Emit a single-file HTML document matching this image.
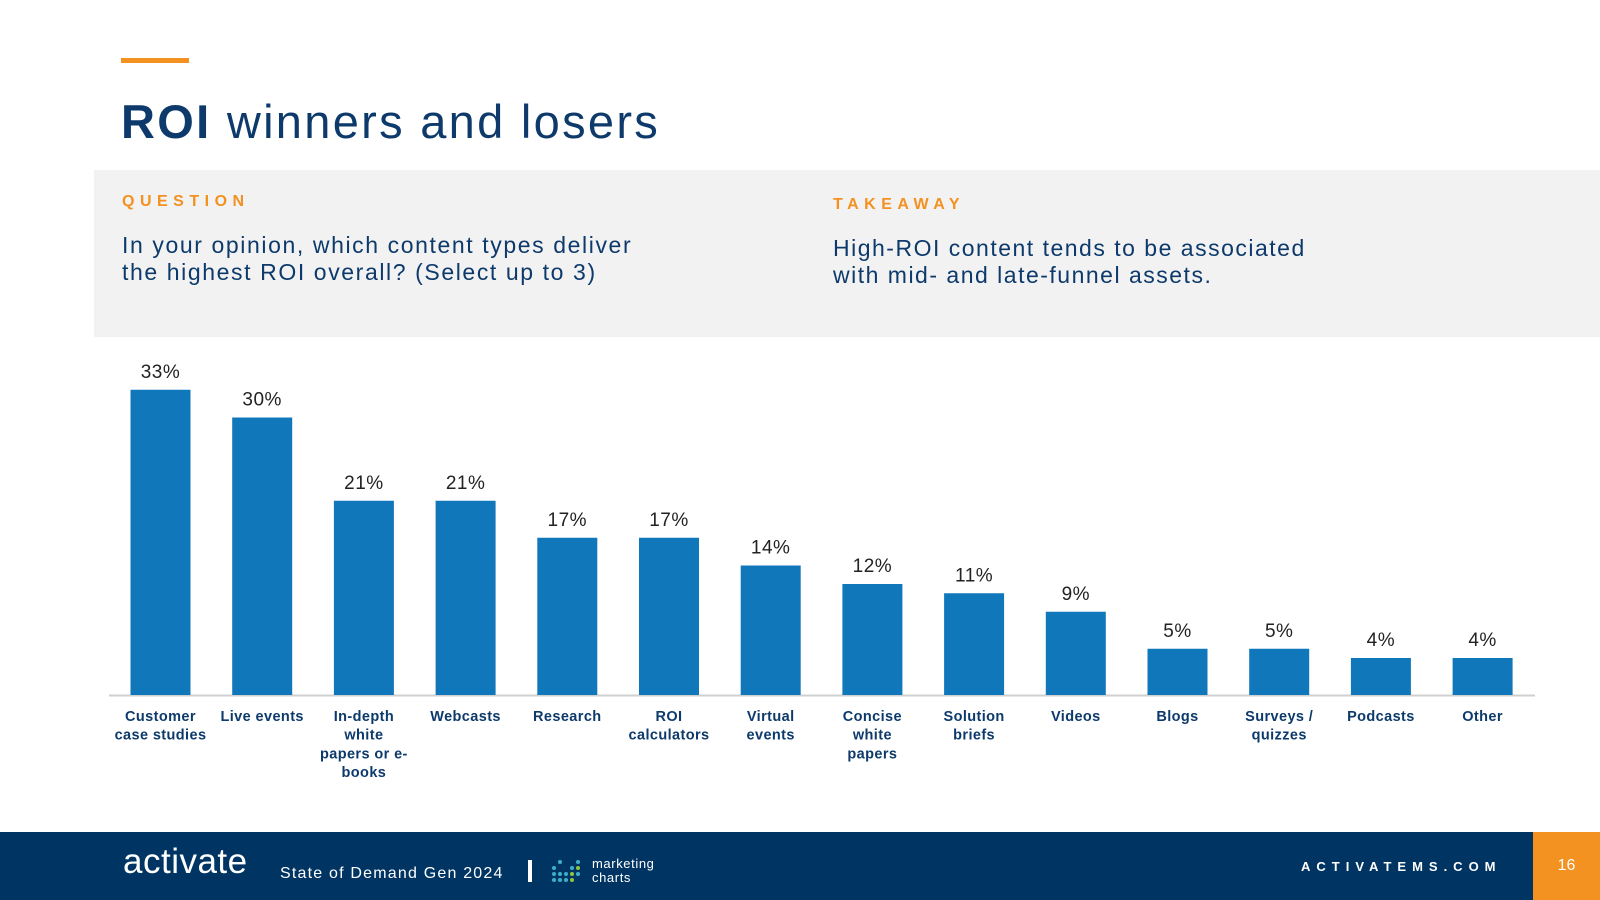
<!DOCTYPE html>
<html><head><meta charset="utf-8"><style>
body{margin:0;width:1600px;height:900px;position:relative;background:#fff;font-family:"Liberation Sans",sans-serif;overflow:hidden}
.abs{position:absolute}
.navy{color:#0d3a6b}
</style></head><body>
<div class="abs" style="left:121px;top:58px;width:68px;height:5px;background:#f39121"></div>
<div class="abs navy" style="left:121px;top:94px;font-size:47px;line-height:56px;letter-spacing:2.3px"><b>ROI</b> winners and losers</div>
<div class="abs" style="left:94px;top:170px;width:1506px;height:167px;background:#f2f2f2"></div>
<div class="abs" style="left:122px;top:193px;font-size:16px;font-weight:bold;color:#f39121;letter-spacing:5.5px">QUESTION</div>
<div class="abs navy" style="left:122px;top:232px;font-size:23px;line-height:27px;letter-spacing:1.6px">In your opinion, which content types deliver<br>the highest ROI overall? (Select up to 3)</div>
<div class="abs" style="left:833px;top:196px;font-size:16px;font-weight:bold;color:#f39121;letter-spacing:5.5px">TAKEAWAY</div>
<div class="abs navy" style="left:833px;top:235px;font-size:23px;line-height:27px;letter-spacing:1.5px">High-ROI content tends to be associated<br>with mid- and late-funnel assets.</div>
<svg class="abs" style="left:0;top:0" width="1600" height="900" id="chart"></svg>
<div class="abs" style="left:0;top:832px;width:1600px;height:68px;background:#003462"></div>
<div class="abs" style="left:123px;top:842px;font-size:35px;color:#fff;letter-spacing:0.5px">activate</div>
<div class="abs" style="left:280px;top:865px;font-size:16px;color:#fff;letter-spacing:1.2px">State of Demand Gen 2024</div>
<div class="abs" style="left:528px;top:860px;width:4px;height:22px;background:#fff"></div>
<svg class="abs" style="left:551px;top:855px" width="32" height="30">
<g fill="#3bb0c9"><circle cx="3" cy="13" r="2"/><circle cx="3" cy="19" r="2"/><circle cx="3" cy="25" r="2"/><circle cx="9" cy="7" r="2"/><circle cx="9" cy="19" r="2"/><circle cx="9" cy="25" r="2"/><circle cx="15" cy="19" r="2"/><circle cx="15" cy="25" r="2"/><circle cx="21" cy="13" r="2"/><circle cx="27" cy="7" r="2"/><circle cx="27" cy="19" r="2"/></g>
<g fill="#8cc63f"><circle cx="21" cy="19" r="2"/><circle cx="21" cy="25" r="2"/><circle cx="27" cy="13" r="2"/></g></svg>
<div class="abs" style="left:592px;top:857px;font-size:13px;line-height:14px;color:#fff;letter-spacing:0.6px">marketing<br>charts</div>
<div class="abs" style="left:1301px;top:859px;font-size:13px;font-weight:bold;color:#fff;letter-spacing:6px">ACTIVATEMS.COM</div>
<div class="abs" style="left:1533px;top:832px;width:67px;height:68px;background:#f39121"></div>
<div class="abs" style="left:1533px;top:857px;width:67px;text-align:center;font-size:16px;color:#fff">16</div>
<script>
const categories=[["Customer","case studies"],["Live events"],["In-depth","white","papers or e-","books"],["Webcasts"],["Research"],["ROI","calculators"],["Virtual","events"],["Concise","white","papers"],["Solution","briefs"],["Videos"],["Blogs"],["Surveys /","quizzes"],["Podcasts"],["Other"]];
const values=[33,30,21,21,17,17,14,12,11,9,5,5,4,4];
const svg=document.getElementById('chart');
const NS='http://www.w3.org/2000/svg';
const base=695,pxPer=9.25,x0=160.5,step=101.7,bw=60;
function x(i){return x0+i*step;}
function y(v){return base-v*pxPer;}
const ax=document.createElementNS(NS,'line');
ax.setAttribute('x1',109);ax.setAttribute('x2',1535);ax.setAttribute('y1',base+0.5);ax.setAttribute('y2',base+0.5);
ax.setAttribute('stroke','#d0d0d0');ax.setAttribute('stroke-width',2);


svg.appendChild(ax);
values.forEach((v,i)=>{
 const r=document.createElementNS(NS,'rect');
 r.setAttribute('x',x(i)-bw/2);r.setAttribute('y',y(v));r.setAttribute('width',bw);r.setAttribute('height',base-y(v));r.setAttribute('fill','#1177bb');
 
 
 svg.appendChild(r);
 const t=document.createElementNS(NS,'text');
 t.setAttribute('x',x(i));t.setAttribute('y',y(v)-12);t.setAttribute('text-anchor','middle');
 t.setAttribute('font-size','19');t.setAttribute('fill','#222');t.setAttribute('font-family','Liberation Sans, sans-serif');t.setAttribute('letter-spacing','0.5');
 t.textContent=v+'%';
 
 
 svg.appendChild(t);
 categories[i].forEach((ln,j)=>{
  const c=document.createElementNS(NS,'text');
  c.setAttribute('x',x(i));c.setAttribute('y',721+j*18.7);c.setAttribute('text-anchor','middle');
  c.setAttribute('font-size','14.5');c.setAttribute('font-weight','bold');c.setAttribute('fill','#0d3a6b');c.setAttribute('font-family','Liberation Sans, sans-serif');c.setAttribute('letter-spacing','0.4');
  c.textContent=ln;
  
  
  svg.appendChild(c);
 });
});
</script>
</body></html>
